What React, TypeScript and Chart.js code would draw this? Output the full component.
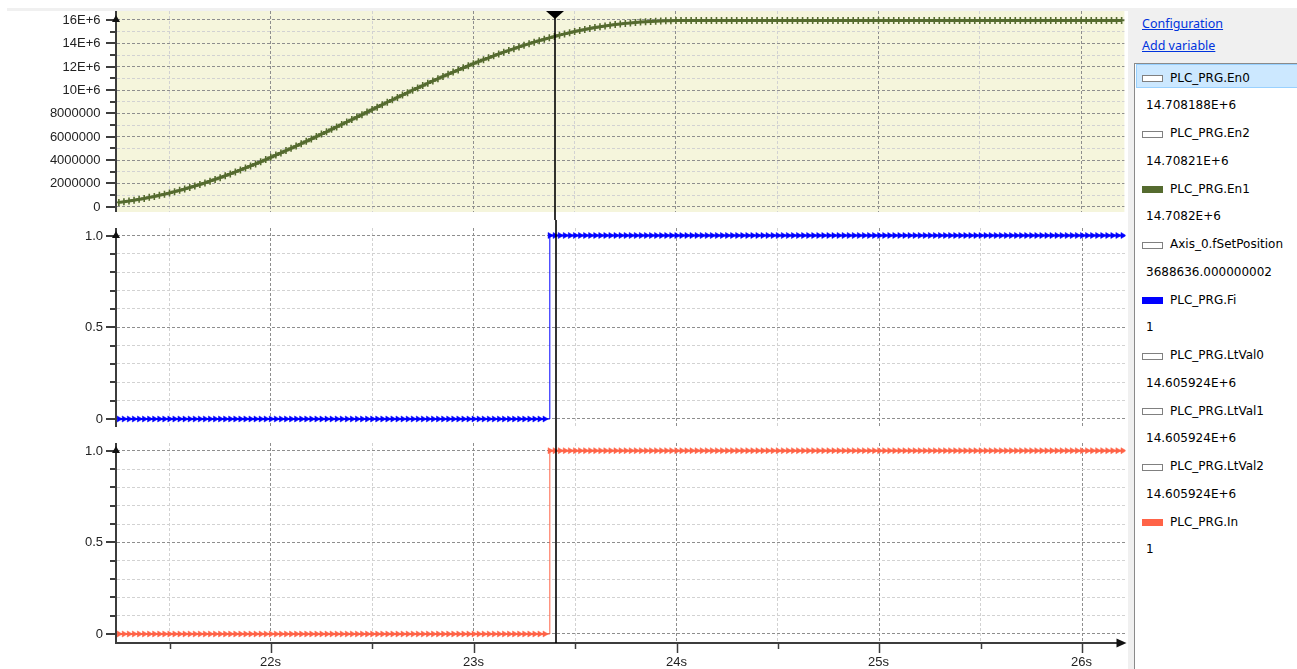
import React, { useEffect, useRef } from 'react';
import { Chart, registerables } from 'chart.js';

Chart.register(...registerables);

// ---- data ----
const sampleTimes = [
  21.25, 21.275, 21.3, 21.325, 21.35, 21.375, 21.4, 21.425, 21.45, 21.475, 21.5, 21.525, 21.55, 21.575, 21.6, 21.625, 21.65, 21.675, 21.7, 21.725,
  21.75, 21.775, 21.8, 21.825, 21.85, 21.875, 21.9, 21.925, 21.95, 21.975, 22, 22.025, 22.05, 22.075, 22.1, 22.125, 22.15, 22.175, 22.2, 22.225,
  22.25, 22.275, 22.3, 22.325, 22.35, 22.375, 22.4, 22.425, 22.45, 22.475, 22.5, 22.525, 22.55, 22.575, 22.6, 22.625, 22.65, 22.675, 22.7, 22.725,
  22.75, 22.775, 22.8, 22.825, 22.85, 22.875, 22.9, 22.925, 22.95, 22.975, 23, 23.025, 23.05, 23.075, 23.1, 23.125, 23.15, 23.175, 23.2, 23.225,
  23.25, 23.275, 23.3, 23.325, 23.35, 23.375, 23.4, 23.425, 23.45, 23.475, 23.5, 23.525, 23.55, 23.575, 23.6, 23.625, 23.65, 23.675, 23.7, 23.725,
  23.75, 23.775, 23.8, 23.825, 23.85, 23.875, 23.9, 23.925, 23.95, 23.975, 24, 24.025, 24.05, 24.075, 24.1, 24.125, 24.15, 24.175, 24.2, 24.225,
  24.25, 24.275, 24.3, 24.325, 24.35, 24.375, 24.4, 24.425, 24.45, 24.475, 24.5, 24.525, 24.55, 24.575, 24.6, 24.625, 24.65, 24.675, 24.7, 24.725,
  24.75, 24.775, 24.8, 24.825, 24.85, 24.875, 24.9, 24.925, 24.95, 24.975, 25, 25.025, 25.05, 25.075, 25.1, 25.125, 25.15, 25.175, 25.2, 25.225,
  25.25, 25.275, 25.3, 25.325, 25.35, 25.375, 25.4, 25.425, 25.45, 25.475, 25.5, 25.525, 25.55, 25.575, 25.6, 25.625, 25.65, 25.675, 25.7, 25.725,
  25.75, 25.775, 25.8, 25.825, 25.85, 25.875, 25.9, 25.925, 25.95, 25.975, 26, 26.025, 26.05, 26.075, 26.1, 26.125, 26.15, 26.175, 26.2,
];

// PLC_PRG.En1 in millions
const en1Millions = [
  0.37, 0.43, 0.49, 0.56, 0.63, 0.71, 0.8, 0.88, 0.98, 1.07, 1.18, 1.29, 1.4, 1.52, 1.64, 1.77, 1.9, 2.04, 2.19, 2.34,
  2.49, 2.65, 2.81, 2.98, 3.15, 3.32, 3.49, 3.67, 3.85, 4.04, 4.23, 4.42, 4.61, 4.81, 5.0, 5.2, 5.4, 5.6, 5.8, 6.01,
  6.22, 6.42, 6.63, 6.84, 7.05, 7.26, 7.47, 7.68, 7.89, 8.11, 8.32, 8.53, 8.74, 8.95, 9.16, 9.36, 9.57, 9.77, 9.98, 10.18,
  10.38, 10.58, 10.78, 10.97, 11.16, 11.35, 11.54, 11.72, 11.9, 12.08, 12.26, 12.43, 12.6, 12.76, 12.93, 13.09, 13.24, 13.39, 13.54, 13.69,
  13.83, 13.97, 14.1, 14.23, 14.35, 14.47, 14.59, 14.7, 14.81, 14.91, 15.01, 15.1, 15.19, 15.27, 15.35, 15.42, 15.49, 15.55, 15.61, 15.66,
  15.71, 15.75, 15.79, 15.82, 15.85, 15.88, 15.9, 15.92, 15.93, 15.94, 15.95, 15.95, 15.96, 15.96, 15.96, 15.96, 15.96, 15.96, 15.96, 15.96,
  15.96, 15.96, 15.96, 15.96, 15.96, 15.96, 15.96, 15.96, 15.96, 15.96, 15.96, 15.96, 15.96, 15.96, 15.96, 15.96, 15.96, 15.96, 15.96, 15.96,
  15.96, 15.96, 15.96, 15.96, 15.96, 15.96, 15.96, 15.96, 15.96, 15.96, 15.96, 15.96, 15.96, 15.96, 15.96, 15.96, 15.96, 15.96, 15.96, 15.96,
  15.96, 15.96, 15.96, 15.96, 15.96, 15.96, 15.96, 15.96, 15.96, 15.96, 15.96, 15.96, 15.96, 15.96, 15.96, 15.96, 15.96, 15.96, 15.96, 15.96,
  15.96, 15.96, 15.96, 15.96, 15.96, 15.96, 15.96, 15.96, 15.96, 15.96, 15.96, 15.96, 15.96, 15.96, 15.96, 15.96, 15.96, 15.96, 15.96,
];

// PLC_PRG.Fi
const fiValues = [
  0, 0, 0, 0, 0, 0, 0, 0, 0, 0, 0, 0, 0, 0, 0, 0, 0, 0, 0, 0,
  0, 0, 0, 0, 0, 0, 0, 0, 0, 0, 0, 0, 0, 0, 0, 0, 0, 0, 0, 0,
  0, 0, 0, 0, 0, 0, 0, 0, 0, 0, 0, 0, 0, 0, 0, 0, 0, 0, 0, 0,
  0, 0, 0, 0, 0, 0, 0, 0, 0, 0, 0, 0, 0, 0, 0, 0, 0, 0, 0, 0,
  0, 0, 0, 0, 0, 1, 1, 1, 1, 1, 1, 1, 1, 1, 1, 1, 1, 1, 1, 1,
  1, 1, 1, 1, 1, 1, 1, 1, 1, 1, 1, 1, 1, 1, 1, 1, 1, 1, 1, 1,
  1, 1, 1, 1, 1, 1, 1, 1, 1, 1, 1, 1, 1, 1, 1, 1, 1, 1, 1, 1,
  1, 1, 1, 1, 1, 1, 1, 1, 1, 1, 1, 1, 1, 1, 1, 1, 1, 1, 1, 1,
  1, 1, 1, 1, 1, 1, 1, 1, 1, 1, 1, 1, 1, 1, 1, 1, 1, 1, 1, 1,
  1, 1, 1, 1, 1, 1, 1, 1, 1, 1, 1, 1, 1, 1, 1, 1, 1, 1, 1,
];

// PLC_PRG.In
const inValues = [
  0, 0, 0, 0, 0, 0, 0, 0, 0, 0, 0, 0, 0, 0, 0, 0, 0, 0, 0, 0,
  0, 0, 0, 0, 0, 0, 0, 0, 0, 0, 0, 0, 0, 0, 0, 0, 0, 0, 0, 0,
  0, 0, 0, 0, 0, 0, 0, 0, 0, 0, 0, 0, 0, 0, 0, 0, 0, 0, 0, 0,
  0, 0, 0, 0, 0, 0, 0, 0, 0, 0, 0, 0, 0, 0, 0, 0, 0, 0, 0, 0,
  0, 0, 0, 0, 0, 1, 1, 1, 1, 1, 1, 1, 1, 1, 1, 1, 1, 1, 1, 1,
  1, 1, 1, 1, 1, 1, 1, 1, 1, 1, 1, 1, 1, 1, 1, 1, 1, 1, 1, 1,
  1, 1, 1, 1, 1, 1, 1, 1, 1, 1, 1, 1, 1, 1, 1, 1, 1, 1, 1, 1,
  1, 1, 1, 1, 1, 1, 1, 1, 1, 1, 1, 1, 1, 1, 1, 1, 1, 1, 1, 1,
  1, 1, 1, 1, 1, 1, 1, 1, 1, 1, 1, 1, 1, 1, 1, 1, 1, 1, 1, 1,
  1, 1, 1, 1, 1, 1, 1, 1, 1, 1, 1, 1, 1, 1, 1, 1, 1, 1, 1,
];

const topTickValues = [0, 1000000, 2000000, 3000000, 4000000, 5000000, 6000000, 7000000, 8000000, 9000000, 10000000, 11000000, 12000000, 13000000, 14000000, 15000000, 16000000];
const topTickLabels = ['0', '', '2000000', '', '4000000', '', '6000000', '', '8000000', '', '10E+6', '', '12E+6', '', '14E+6', '', '16E+6'];

const binaryTickValues = [0, 0.1, 0.2, 0.3, 0.4, 0.5, 0.6, 0.7, 0.8, 0.9, 1];
const binaryTickLabels = ['0', '', '', '', '', '0.5', '', '', '', '', '1.0'];

const timeTickValues = [21.5, 22, 22.5, 23, 23.5, 24, 24.5, 25, 25.5, 26];
const timeTickLabels = ['', '22s', '', '23s', '', '24s', '', '25s', '', '26s'];

const cursorTime = 23.404;

const legendNames = ['PLC_PRG.En0', 'PLC_PRG.En2', 'PLC_PRG.En1', 'Axis_0.fSetPosition', 'PLC_PRG.Fi', 'PLC_PRG.LtVal0', 'PLC_PRG.LtVal1', 'PLC_PRG.LtVal2', 'PLC_PRG.In'];
const legendValues = ['14.708188E+6', '14.70821E+6', '14.7082E+6', '3688636.000000002', '1', '14.605924E+6', '14.605924E+6', '14.605924E+6', '1'];
const legendColors: (string | null)[] = [null, null, '#556b2f', null, '#0000ff', null, null, null, '#ff6347'];

// ---- styling ----
const X_MIN = 21.2408;
const X_MAX = 26.2137;
const AXIS_COLOR = '#3c3c3c';
const LABEL_FONT = '13px "Liberation Sans", Arial, sans-serif';
const GRID_MAJOR = '#8e8e8e';
const GRID_MINOR = '#d2d2d2';

type PanelCfg = {
  key: string;
  top: number;
  height: number;
  padTop: number;
  padBottom: number;
  yMin: number;
  yMax: number;
  tickValues: number[];
  tickLabels: string[];
  labelPad: number;
  bg?: string;
  showXAxis: boolean;
  cursorFrom: 'triangle' | 'top';
  cursorToChartBottom: boolean;
  datasets: any[];
};

function makePlugin(cfg: PanelCfg) {
  return {
    id: 'trace_' + cfg.key,
    beforeDraw(chart: any) {
      if (!cfg.bg) return;
      const { ctx, chartArea: a } = chart;
      ctx.save();
      ctx.fillStyle = cfg.bg;
      ctx.fillRect(a.left, a.top, a.right - a.left, a.bottom - a.top);
      ctx.restore();
    },
    afterDraw(chart: any) {
      const { ctx, chartArea: a } = chart;
      const ys = chart.scales.y;
      const xs = chart.scales.x;
      const ax = a.left - 1;
      ctx.save();
      // y axis line
      ctx.strokeStyle = AXIS_COLOR;
      ctx.fillStyle = AXIS_COLOR;
      ctx.lineWidth = 2;
      ctx.beginPath();
      ctx.moveTo(ax, a.top);
      ctx.lineTo(ax, a.bottom + (cfg.showXAxis ? 1 : 0));
      ctx.stroke();
      // y ticks + labels
      ctx.font = LABEL_FONT;
      ctx.textAlign = 'right';
      ctx.textBaseline = 'middle';
      cfg.tickValues.forEach((v, i) => {
        const py = Math.round(ys.getPixelForValue(v));
        const major = cfg.tickLabels[i] !== '';
        const len = major ? 10 : 6;
        ctx.strokeStyle = AXIS_COLOR;
        ctx.beginPath();
        ctx.moveTo(ax - len, py);
        ctx.lineTo(ax, py);
        ctx.stroke();
        if (major) {
          ctx.fillStyle = '#222';
          ctx.fillText(cfg.tickLabels[i], a.left - cfg.labelPad, py + 0.5);
        }
      });
      // arrow at top tick
      const topV = cfg.tickValues[cfg.tickValues.length - 1];
      const pt = Math.round(ys.getPixelForValue(topV));
      ctx.fillStyle = '#111';
      ctx.beginPath();
      ctx.moveTo(ax, pt - 5);
      ctx.lineTo(ax - 4, pt + 2);
      ctx.lineTo(ax + 4, pt + 2);
      ctx.closePath();
      ctx.fill();

      if (cfg.showXAxis) {
        const ay = a.bottom;
        ctx.strokeStyle = AXIS_COLOR;
        ctx.lineWidth = 2;
        ctx.beginPath();
        ctx.moveTo(ax - 1, ay);
        ctx.lineTo(a.right - 2, ay);
        ctx.stroke();
        ctx.fillStyle = '#111';
        ctx.beginPath();
        ctx.moveTo(a.right + 1, ay);
        ctx.lineTo(a.right - 9, ay - 4.5);
        ctx.lineTo(a.right - 9, ay + 4.5);
        ctx.closePath();
        ctx.fill();
        ctx.font = LABEL_FONT;
        ctx.textAlign = 'center';
        ctx.textBaseline = 'middle';
        timeTickValues.forEach((v, i) => {
          const px = Math.round(xs.getPixelForValue(v)) + 0.5;
          const major = timeTickLabels[i] !== '';
          ctx.strokeStyle = AXIS_COLOR;
          ctx.lineWidth = 1.5;
          ctx.beginPath();
          ctx.moveTo(px, ay);
          ctx.lineTo(px, ay + (major ? 10 : 6));
          ctx.stroke();
          if (major) {
            ctx.fillStyle = '#222';
            ctx.fillText(timeTickLabels[i], px - 1, ay + 19);
          }
        });
      }

      // cursor
      const cx = Math.round(xs.getPixelForValue(cursorTime));
      const y0 = cfg.cursorFrom === 'triangle' ? 12 : 0;
      const y1 = cfg.cursorToChartBottom ? a.bottom : chart.height;
      ctx.strokeStyle = '#000';
      ctx.lineWidth = 1.6;
      ctx.beginPath();
      ctx.moveTo(cx, y0);
      ctx.lineTo(cx, y1);
      ctx.stroke();
      if (cfg.cursorFrom === 'triangle') {
        ctx.fillStyle = '#000';
        ctx.beginPath();
        ctx.moveTo(cx - 9, 11);
        ctx.lineTo(cx + 9, 11);
        ctx.lineTo(cx, 19);
        ctx.closePath();
        ctx.fill();
      }
      ctx.restore();
    },
  };
}

function buildPoints(values: number[], scale: number) {
  return sampleTimes.map((t, i) => ({ x: t, y: values[i] * scale }));
}

function Panel({ cfg }: { cfg: PanelCfg }) {
  const ref = useRef<HTMLCanvasElement | null>(null);
  useEffect(() => {
    if (!ref.current) return;
    const chart = new Chart(ref.current, {
      type: 'line',
      data: { datasets: cfg.datasets },
      options: {
        animation: false,
        responsive: false,
        maintainAspectRatio: false,
        events: [],
        layout: { padding: { left: 0, right: 3, top: cfg.padTop, bottom: cfg.padBottom } },
        plugins: { legend: { display: false }, tooltip: { enabled: false } },
        scales: {
          x: {
            type: 'linear',
            min: X_MIN,
            max: X_MAX,
            afterBuildTicks: (s: any) => {
              s.ticks = timeTickValues.map((v) => ({ value: v }));
            },
            afterFit: (s: any) => {
              s.height = 0;
            },
            ticks: { display: false, autoSkip: false },
            border: { display: false, dash: [3, 2] },
            grid: {
              drawTicks: false,
              lineWidth: 1,
              color: (c: any) => (timeTickLabels[c.index] ? GRID_MAJOR : GRID_MINOR),
            },
          },
          y: {
            type: 'linear',
            min: cfg.yMin,
            max: cfg.yMax,
            afterBuildTicks: (s: any) => {
              s.ticks = cfg.tickValues.map((v) => ({ value: v }));
            },
            afterFit: (s: any) => {
              s.width = 117;
            },
            ticks: { display: false, autoSkip: false },
            border: { display: false, dash: [3, 2] },
            grid: {
              drawTicks: false,
              lineWidth: 1,
              color: (c: any) => (cfg.tickLabels[c.index] ? GRID_MAJOR : GRID_MINOR),
            },
          },
        },
      } as any,
      plugins: [makePlugin(cfg)],
    });
    return () => chart.destroy();
  }, []);
  return (
    <canvas
      ref={ref}
      width={1130}
      height={cfg.height}
      style={{ position: 'absolute', left: 0, top: cfg.top, width: 1130, height: cfg.height }}
    />
  );
}

const stepSegment = {
  borderWidth: (c: any) => (c.p0.parsed.y !== c.p1.parsed.y ? 1 : undefined),
};

const panels: PanelCfg[] = [
  {
    key: 'top',
    top: 0,
    height: 220,
    padTop: 11,
    padBottom: 8,
    yMin: -454000,
    yMax: 16771000,
    tickValues: topTickValues,
    tickLabels: topTickLabels,
    labelPad: 16.5,
    bg: '#f5f5dc',
    showXAxis: false,
    cursorFrom: 'triangle',
    cursorToChartBottom: false,
    datasets: [
      {
        label: 'PLC_PRG.En1',
        data: buildPoints(en1Millions, 1000000),
        borderColor: '#556b2f',
        backgroundColor: '#556b2f',
        borderWidth: 3,
        pointStyle: 'cross',
        pointRadius: 3.5,
        pointBorderWidth: 1.6,
        pointBorderColor: '#556b2f',
      },
    ],
  },
  {
    key: 'mid',
    top: 220,
    height: 215,
    padTop: 8,
    padBottom: 8,
    yMin: -0.0436,
    yMax: 1.0409,
    tickValues: binaryTickValues,
    tickLabels: binaryTickLabels,
    labelPad: 14,
    showXAxis: false,
    cursorFrom: 'top',
    cursorToChartBottom: false,
    datasets: [
      {
        label: 'PLC_PRG.Fi',
        data: buildPoints(fiValues, 1),
        stepped: 'before',
        borderColor: '#0000ff',
        backgroundColor: '#0000ff',
        borderWidth: 2,
        pointStyle: 'triangle',
        rotation: 90,
        pointRadius: 3.5,
        pointBorderWidth: 0.5,
        pointBorderColor: '#0000ff',
        pointBackgroundColor: '#0000ff',
        segment: stepSegment,
      },
    ],
  },
  {
    key: 'bot',
    top: 435,
    height: 234,
    padTop: 8,
    padBottom: 26,
    yMin: -0.0491,
    yMax: 1.042,
    tickValues: binaryTickValues,
    tickLabels: binaryTickLabels,
    labelPad: 14,
    showXAxis: true,
    cursorFrom: 'top',
    cursorToChartBottom: true,
    datasets: [
      {
        label: 'PLC_PRG.In',
        data: buildPoints(inValues, 1),
        stepped: 'before',
        borderColor: '#ff6347',
        backgroundColor: '#ff6347',
        borderWidth: 2,
        pointStyle: 'triangle',
        rotation: 90,
        pointRadius: 3.5,
        pointBorderWidth: 0.5,
        pointBorderColor: '#ff6347',
        pointBackgroundColor: '#ff6347',
        segment: stepSegment,
      },
    ],
  },
];

const LINK_FONT = '"Noto Sans", "Open Sans", sans-serif';
const LIST_FONT = '"DejaVu Sans", Verdana, sans-serif';

function LegendPanel() {
  const lineCenter = (k: number) => 77.5 + 27.75 * k;
  const items: React.ReactNode[] = [];
  legendNames.forEach((name, i) => {
    const cy = lineCenter(i * 2);
    const vy = lineCenter(i * 2 + 1);
    const color = legendColors[i];
    items.push(
      <div
        key={'sw' + i}
        style={{
          position: 'absolute',
          left: 1142,
          top: cy - 2.5,
          width: 19,
          height: 5,
          background: color || '#ffffff',
          border: '1px solid ' + (color || '#808080'),
        }}
      />,
    );
    items.push(
      <div
        key={'n' + i}
        style={{ position: 'absolute', left: 1170, top: cy - 9, lineHeight: '18px', fontSize: 12, fontFamily: LIST_FONT, color: '#000', whiteSpace: 'nowrap' }}
      >
        {name}
      </div>,
    );
    items.push(
      <div
        key={'v' + i}
        style={{ position: 'absolute', left: 1146, top: vy - 9, lineHeight: '18px', fontSize: 12, fontFamily: LIST_FONT, color: '#000', whiteSpace: 'nowrap' }}
      >
        {legendValues[i]}
      </div>,
    );
  });
  return (
    <>
      <div style={{ position: 'absolute', left: 1128, top: 8, width: 169, height: 661, background: '#f0f0f0' }} />
      <div
        style={{ position: 'absolute', left: 1142, top: 15, lineHeight: '18px', fontSize: 12.5, fontFamily: LINK_FONT, color: '#0033dd', textDecoration: 'underline', whiteSpace: 'nowrap' }}
      >
        Configuration
      </div>
      <div
        style={{ position: 'absolute', left: 1142, top: 37, lineHeight: '18px', fontSize: 12.5, fontFamily: LINK_FONT, color: '#0033dd', textDecoration: 'underline', whiteSpace: 'nowrap' }}
      >
        Add variable
      </div>
      <div style={{ position: 'absolute', left: 1134, top: 63, width: 170, height: 620, background: '#fff', border: '1px solid #8a8a8a' }} />
      <div style={{ position: 'absolute', left: 1136, top: 64, width: 170, height: 22, background: '#cce8ff', border: '1px solid #99d1ff' }} />
      {items}
    </>
  );
}

export default function App() {
  return (
    <div
      style={{
        position: 'fixed',
        left: 0,
        top: 0,
        width: 1297,
        height: 669,
        overflow: 'hidden',
        background: '#ffffff',
        fontFamily: LINK_FONT,
      }}
    >
      <div style={{ position: 'absolute', left: 7, top: 8, width: 1121, height: 3, background: '#f0f0f0' }} />
      {panels.map((p) => (
        <Panel key={p.key} cfg={p} />
      ))}
      <LegendPanel />
    </div>
  );
}
